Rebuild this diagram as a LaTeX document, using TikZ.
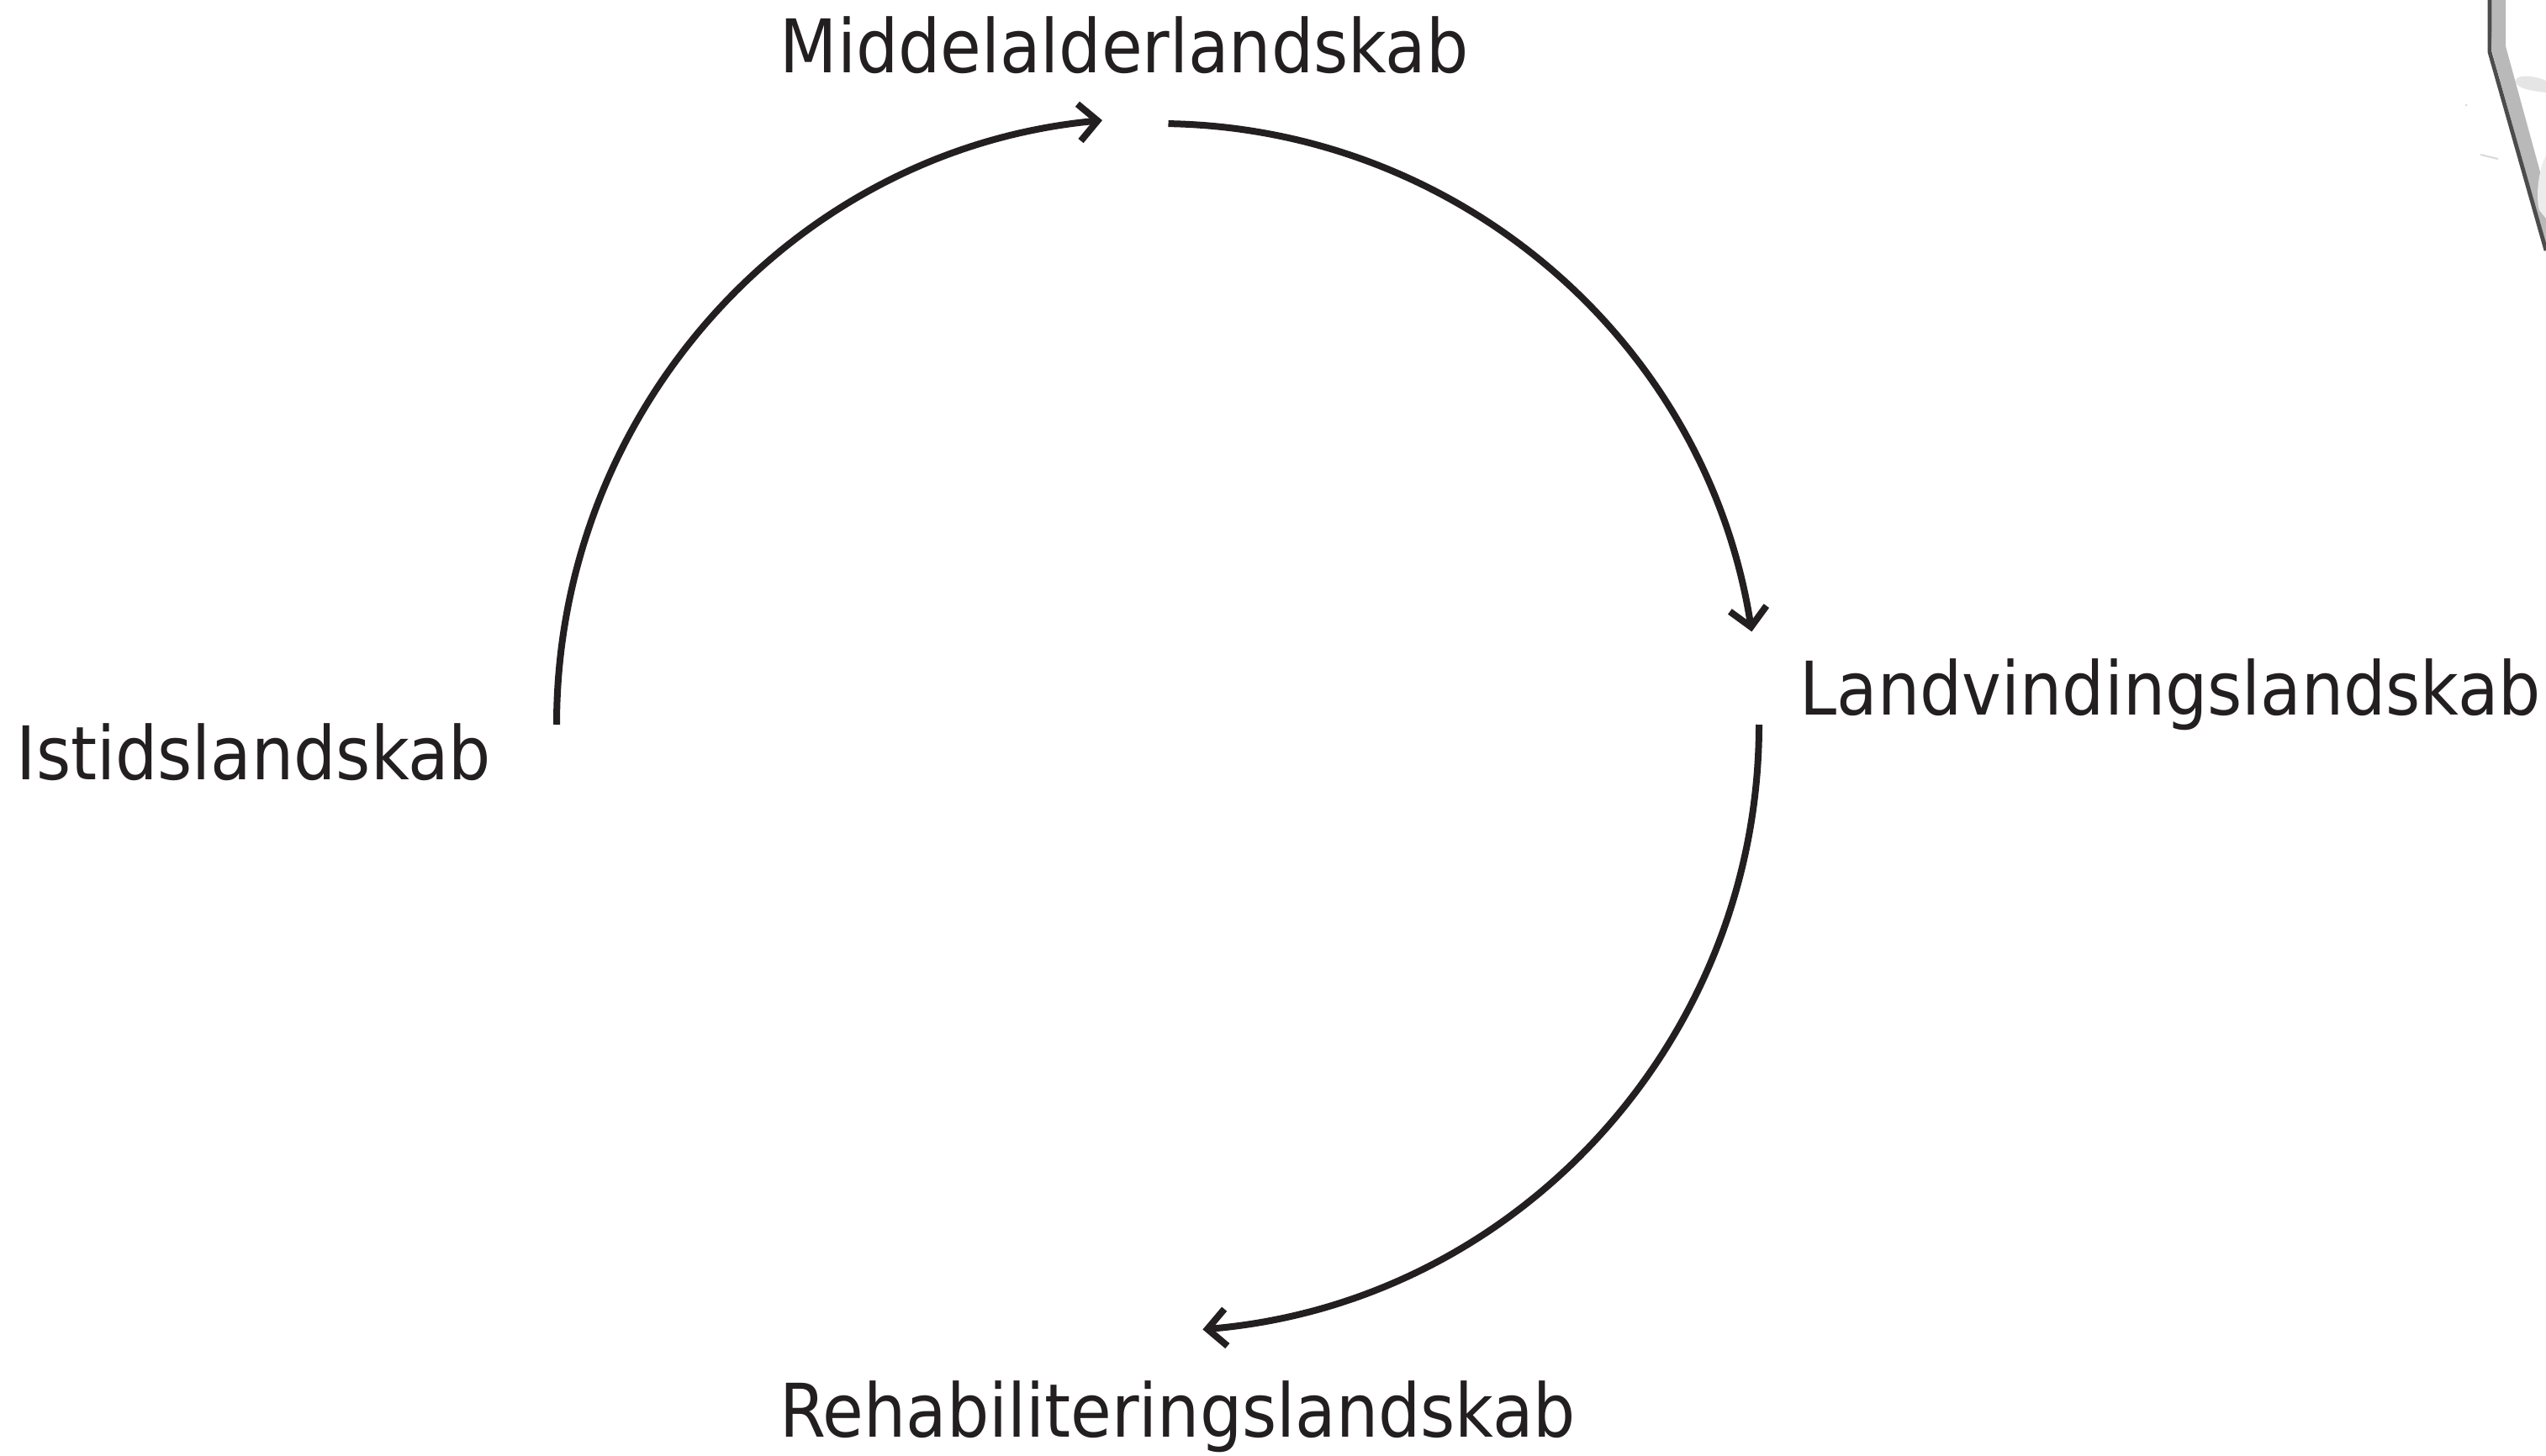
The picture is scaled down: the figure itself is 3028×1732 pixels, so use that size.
\documentclass[tikz,border=0pt]{standalone}
\usepackage{fontspec}
\setmainfont{DejaVu Sans Condensed}
\usetikzlibrary{arrows.meta,calc}
\definecolor{ink}{HTML}{231F20}
\tikzset{
  lbl/.style={anchor=base west, inner sep=0pt, text=ink, font=\fontsize{22}{26}\selectfont},
  cyc/.style={draw=ink, line width=2pt, -{Straight Barb[length=5.5pt,width=11pt,line width=2pt]}},
}
\begin{document}
\begin{tikzpicture}[x=0.25pt,y=-0.25pt]
\useasboundingbox (0,0) rectangle (3028,1732);
% labels
\node[lbl] (mid) at (927,87) {Middelalderlandskab};
\node[lbl] (land) at (2140,850) {Landvindingslandskab};
\node[lbl] (isl) at (19,927) {Istidslandskab};
\node[lbl] (reh) at (927,1709) {Rehabiliteringslandskab};
% circle centre
\coordinate (c) at (1377,862);
\coordinate (p1) at ($(c)+(-715,0)$);
\coordinate (p2) at ($(c)+({715*cos(89)},{-715*sin(89)})$);
\coordinate (p3) at ($(c)+(715,0)$);
\draw[cyc] (p1) arc[start angle=180, end angle=95.3, x radius=715, y radius=-722];
\draw[cyc] (p2) arc[start angle=89, end angle=8.9, x radius=715, y radius=-715];
\draw[cyc] (p3) arc[start angle=0, end angle=-85.2, x radius=722, y radius=-722];
% cropped sketch fragment, top right
\fill[gray!55] (2962,0) -- (2980,0) -- (2980,55) -- (3028,230) -- (3028,292) -- (2964,62) -- cycle;
\draw[black!70, line width=1.2pt] (2961,0) -- (2961,62) -- (3028,298);
\fill[gray!20] (2992,95) .. controls (2995,88) and (3015,90) .. (3028,96) -- (3028,110) .. controls (3010,108) and (2990,105) .. cycle;
\fill[gray!15] (3028,185) .. controls (3020,200) and (3015,230) .. (3020,250) -- (3028,260) -- cycle;
\draw[gray!30, line width=0.5pt] (2950,184) -- (2971,189);
\fill[gray!30] (2933,125) circle (1.5);
\end{tikzpicture}
\end{document}
